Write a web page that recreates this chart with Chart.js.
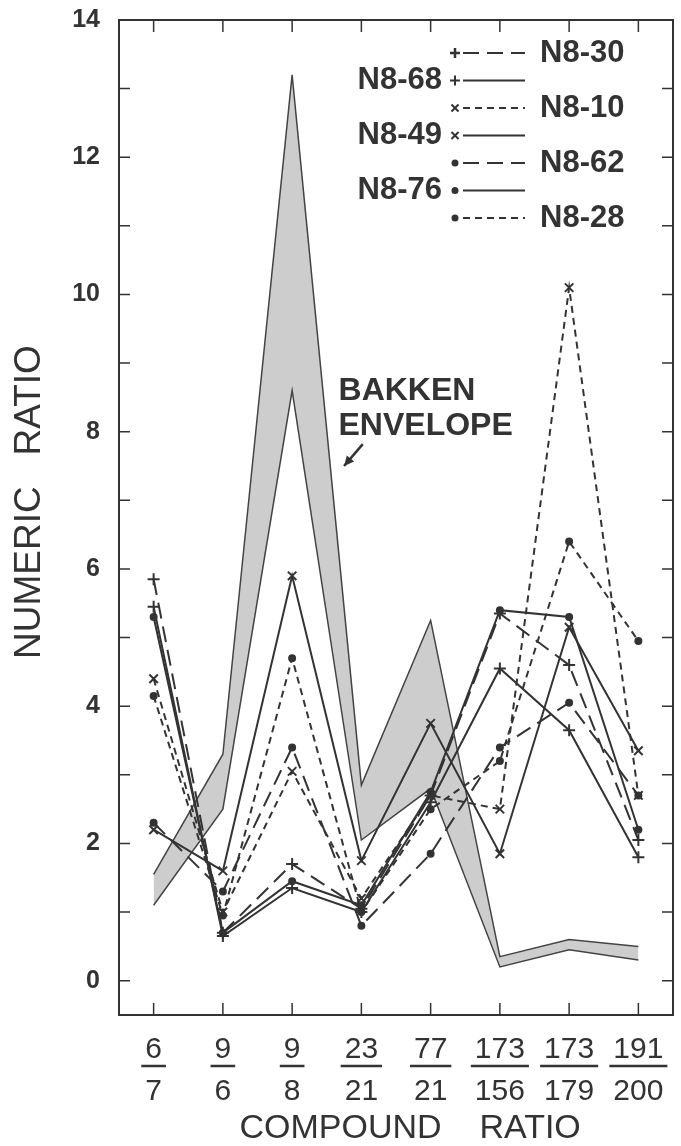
<!DOCTYPE html>
<html>
<head>
<meta charset="utf-8">
<script src="https://cdn.jsdelivr.net/npm/chart.js@4.4.0/dist/chart.umd.min.js"></script>
<style>
  html, body { margin: 0; padding: 0; background: #fff; }
</style>
</head>
<body>
<canvas id="graph" width="681" height="1146"></canvas>
<script>
// compound ratios on the x axis, written as "numerator/denominator"
const categories = ["6/7", "9/6", "9/8", "23/21", "77/21", "173/156", "173/179", "191/200"];
const yTicks = [0, 1, 2, 3, 4, 5, 6, 7, 8, 9, 10, 11, 12, 13, 14];

// samples
const n830 = [5.85, 0.7, 1.7, 1.05, 2.7, 5.35, 4.6, 2.05];
const n868 = [5.45, 0.65, 1.35, 1.0, 2.6, 4.55, 3.65, 1.8];
const n810 = [4.4, 1.0, 3.05, 1.2, 2.7, 2.5, 10.1, 2.7];
const n849 = [2.2, 1.6, 5.9, 1.75, 3.75, 1.85, 5.15, 3.35];
const n862 = [2.3, 1.3, 3.4, 0.8, 1.85, 3.4, 4.05, 2.7];
const n876 = [5.3, 0.7, 1.45, 1.1, 2.75, 5.4, 5.3, 2.2];
const n828 = [4.15, 0.95, 4.7, 1.0, 2.5, 3.2, 6.4, 4.95];

// Bakken envelope
const envUpper = [1.55, 3.3, 13.2, 2.85, 5.25, 0.35, 0.6, 0.5];
const envLower = [1.1, 2.5, 8.6, 2.05, 2.8, 0.2, 0.45, 0.3];

const legendOrder = ["N8-30", "N8-68", "N8-10", "N8-49", "N8-62", "N8-76", "N8-28"];
const legendSide = ["right", "left", "right", "left", "right", "left", "right"];

const ink = "#333";
const fam = "'Liberation Sans', Arial, sans-serif";
Chart.defaults.font.family = fam;
Chart.defaults.color = ink;

const longDash = [16, 8];
const shortDash = [7, 5];

function series(label, data, style, dash) {
  return {
    label: label,
    data: data,
    borderColor: ink,
    borderWidth: 2,
    borderDash: dash,
    pointStyle: style,
    pointRadius: style == "circle" ? 3 : 6,
    pointBorderWidth: 2,
    pointBackgroundColor: ink,
    pointBorderColor: ink,
    fill: false,
    order: 0,
  };
}

const extras = {
  id: "extras",
  afterDraw(chart) {
    const ctx = chart.ctx;
    const a = chart.chartArea;
    const x = chart.scales.x;
    const y = chart.scales.y;
    ctx.save();
    ctx.strokeStyle = ink;
    ctx.fillStyle = ink;

    // frame + inward ticks
    ctx.lineWidth = 2;
    ctx.strokeRect(a.left, a.top, a.right - a.left, a.bottom - a.top);
    ctx.lineWidth = 1.5;
    ctx.beginPath();
    y.ticks.forEach(t => {
      const py = y.getPixelForValue(t.value);
      ctx.moveTo(a.left, py); ctx.lineTo(a.left + 11, py);
      ctx.moveTo(a.right, py); ctx.lineTo(a.right - 11, py);
    });
    categories.forEach((c, i) => {
      const px = x.getPixelForTick(i);
      ctx.moveTo(px, a.bottom); ctx.lineTo(px, a.bottom - 12);
      ctx.moveTo(px, a.top); ctx.lineTo(px, a.top + 12);
    });
    ctx.stroke();

    // fraction bars under the numerators
    ctx.font = "30px " + fam;
    ctx.lineWidth = 2.5;
    categories.forEach((c, i) => {
      const parts = c.split("/");
      const w = Math.max(ctx.measureText(parts[0]).width, ctx.measureText(parts[1]).width) + 8;
      const px = x.getPixelForTick(i);
      const by = a.bottom + 51;
      ctx.beginPath();
      ctx.moveTo(px - w / 2, by);
      ctx.lineTo(px + w / 2, by);
      ctx.stroke();
    });

    // legend
    ctx.font = "bold 31px " + fam;
    ctx.textBaseline = "middle";
    legendOrder.forEach((name, i) => {
      const ds = chart.data.datasets.find(d => d.label == name);
      const ly = a.top + 33 + i * 27.5;
      const x0 = a.right - 222;
      const x1 = a.right - 148;
      Chart.helpers.drawPoint(ctx, {
        pointStyle: ds.pointStyle,
        radius: ds.pointStyle == "circle" ? 2.5 : 5,
        borderWidth: 2,
        rotation: 0,
      }, x0 + 4, ly);
      ctx.lineWidth = 2;
      ctx.setLineDash(ds.borderDash);
      ctx.beginPath();
      ctx.moveTo(x0 + 12, ly);
      ctx.lineTo(x1, ly);
      ctx.stroke();
      ctx.setLineDash([]);
      if (legendSide[i] == "right") {
        ctx.textAlign = "left";
        ctx.fillText(name, a.right - 133, ly);
      } else {
        ctx.textAlign = "right";
        ctx.fillText(name, a.right - 231, ly);
      }
    });

    // envelope note + arrow
    ctx.font = "bold 32px " + fam;
    ctx.textAlign = "left";
    ctx.fillText("BAKKEN", x.getPixelForValue(2.67), y.getPixelForValue(8.59));
    ctx.fillText("ENVELOPE", x.getPixelForValue(2.67), y.getPixelForValue(8.08));
    const ax0 = x.getPixelForValue(3.02), ay0 = y.getPixelForValue(7.82);
    const ax1 = x.getPixelForValue(2.75), ay1 = y.getPixelForValue(7.5);
    ctx.lineWidth = 2.5;
    ctx.beginPath();
    ctx.moveTo(ax0, ay0);
    ctx.lineTo(ax1, ay1);
    ctx.stroke();
    const ang = Math.atan2(ay1 - ay0, ax1 - ax0);
    ctx.beginPath();
    ctx.moveTo(ax1, ay1);
    ctx.lineTo(ax1 - 11 * Math.cos(ang - 0.45), ay1 - 11 * Math.sin(ang - 0.45));
    ctx.lineTo(ax1 - 11 * Math.cos(ang + 0.45), ay1 - 11 * Math.sin(ang + 0.45));
    ctx.closePath();
    ctx.fill();
    ctx.restore();
  },
};

let graph = document.getElementById("graph").getContext("2d");
let ratioChart = new Chart(graph, {
  type: "line",
  data: {
    labels: categories,
    datasets: [
      series("N8-30", n830, "cross", longDash),
      series("N8-68", n868, "cross", []),
      series("N8-10", n810, "crossRot", shortDash),
      series("N8-49", n849, "crossRot", []),
      series("N8-62", n862, "circle", longDash),
      series("N8-76", n876, "circle", []),
      series("N8-28", n828, "circle", shortDash),
      {
        label: "envelope low",
        data: envLower,
        borderColor: "#444",
        borderWidth: 1.5,
        pointRadius: 0,
        fill: false,
        order: 1,
      },
      {
        label: "envelope high",
        data: envUpper,
        borderColor: "#444",
        borderWidth: 1.5,
        pointRadius: 0,
        fill: "-1",
        backgroundColor: "#cdcdcd",
        order: 1,
      },
    ],
  },
  options: {
    responsive: false,
    animation: false,
    devicePixelRatio: 1,
    layout: { padding: { top: 20, right: 1, left: 0, bottom: 0 } },
    plugins: {
      legend: { display: false },
      tooltip: { enabled: false },
    },
    scales: {
      x: {
        offset: true,
        grid: { display: false },
        border: { display: false },
        ticks: {
          autoSkip: false,
          maxRotation: 0,
          padding: 6,
          color: ink,
          font: { size: 30, lineHeight: 1.4 },
          callback: (v, i) => categories[i].split("/"),
        },
        title: {
          display: true,
          text: "   COMPOUND    RATIO",
          color: ink,
          font: { size: 34, lineHeight: 1 },
          padding: 0,
        },
        afterFit(s) {
          s.height = 131;
          s.paddingLeft = 0;
          s.paddingRight = 0;
        },
      },
      y: {
        min: -0.5,
        max: 14,
        grid: { display: false },
        border: { display: false },
        afterBuildTicks(s) { s.ticks = yTicks.map(v => ({ value: v })); },
        ticks: {
          padding: 11,
          color: ink,
          font: { size: 25, weight: "bold" },
          callback: v => (v % 2 == 0 ? v : ""),
        },
        title: {
          display: true,
          text: "   NUMERIC   RATIO",
          color: ink,
          font: { size: 37, lineHeight: 1.2 },
          padding: { top: 8, bottom: 0 },
        },
        afterFit(s) {
          s.width = 119;
          s.paddingTop = 0;
          s.paddingBottom = 0;
        },
      },
    },
  },
  plugins: [extras],
});
</script>
</body>
</html>
